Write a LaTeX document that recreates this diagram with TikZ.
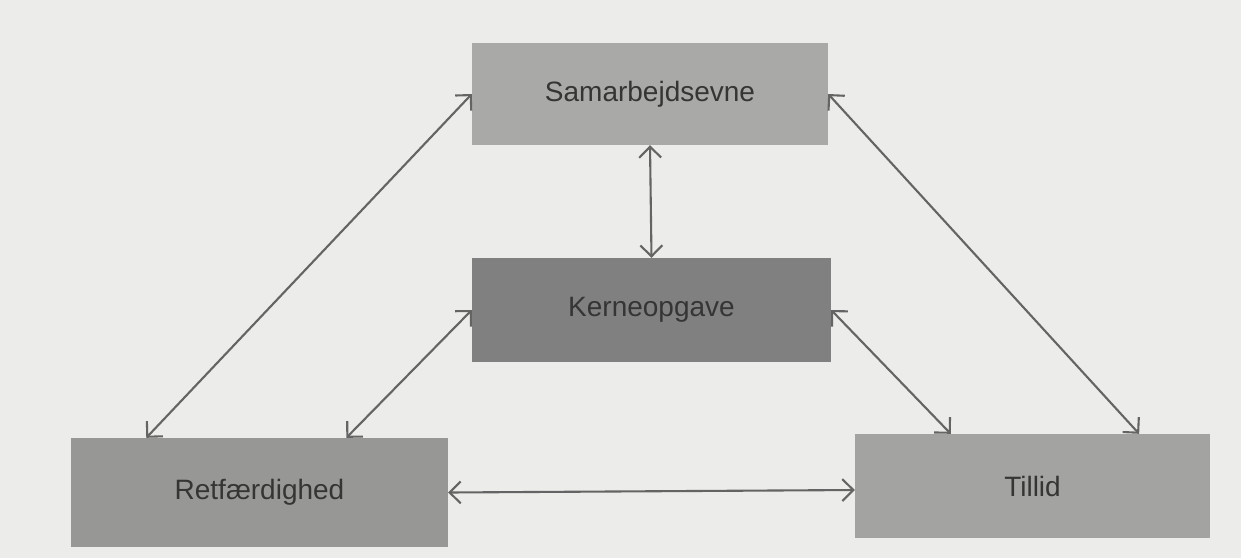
\documentclass[tikz,border=0pt]{standalone}
\usepackage{fontspec}
\setmainfont{Liberation Sans}
\usetikzlibrary{arrows.meta,calc}
\definecolor{paper}{HTML}{ECECEA}
\definecolor{boxS}{HTML}{A9A9A7}
\definecolor{boxK}{HTML}{808080}
\definecolor{boxR}{HTML}{979795}
\definecolor{boxT}{HTML}{A3A3A1}
\definecolor{ink}{HTML}{353535}
\definecolor{arrowc}{HTML}{646464}
\tikzset{
  box/.style={draw=none, rectangle, inner sep=0pt, text=ink,
    font=\fontsize{28}{32}\selectfont},
  link/.style={draw=arrowc, line width=2.1pt,
    {Straight Barb[length=11pt,width=22pt]}-{Straight Barb[length=11pt,width=22pt]}},
}
\begin{document}
\begin{tikzpicture}[x=1pt,y=-1pt]
\fill[paper] (0,0) rectangle (1241,558);
\useasboundingbox (0,0) rectangle (1241,558);
\node[box, fill=boxS, minimum width=356pt, minimum height=102pt] (s) at (650,94) {Samarbejdsevne};
\node[box, fill=boxK, minimum width=359pt, minimum height=104pt] (k) at (651.5,310) {Kerneopgave};
\node[box, fill=boxR, minimum width=377pt, minimum height=109pt] (r) at (259.5,492.5) {Retfærdighed};
\node[box, fill=boxT, minimum width=355pt, minimum height=104pt] (t) at (1032.5,486) {Tillid};
\draw[link] (s.west) -- ($(r.north west)!0.2!(r.north east)$);
\draw[link] (s.east) -- ($(t.north west)!0.8!(t.north east)$);
\draw[link] (s.south) -- (k.north);
\draw[link] (k.west) -- ($(r.north west)!0.73!(r.north east)$);
\draw[link] (k.east) -- ($(t.north west)!0.27!(t.north east)$);
\draw[link] (r.east) -- ([yshift=-4pt]t.west);
\end{tikzpicture}
\end{document}
